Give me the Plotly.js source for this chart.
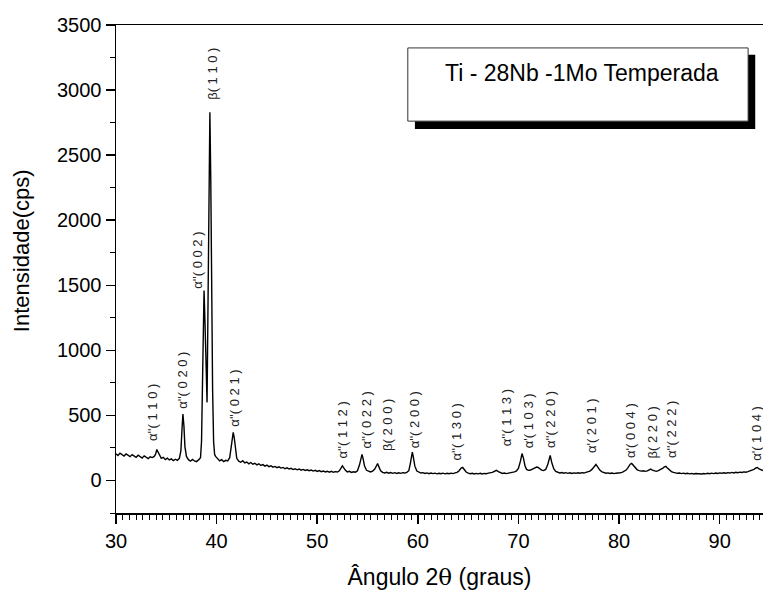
<!DOCTYPE html>
<html><head><meta charset="utf-8">
<script src="https://cdn.plot.ly/plotly-3.0.1.min.js"></script>
<style>html,body{margin:0;padding:0;background:#fff}#chart{width:763px;height:591px}</style>
</head><body><div id="chart"></div>
<script>
const twoTheta = [
30.0,30.2,30.4,30.6,30.8,31.0,31.2,31.4,31.6,31.8,
32.0,32.2,32.4,32.6,32.8,33.0,33.2,33.4,33.6,33.8,
33.95,34.05,34.15,34.3,34.5,34.7,34.9,35.1,35.3,35.5,
35.7,35.9,36.1,36.3,36.45,36.55,36.65,36.75,36.85,37.0,
37.2,37.4,37.6,37.8,38.0,38.2,38.4,38.5,38.6,38.7,
38.75,38.85,38.95,39.05,39.15,39.25,39.33,39.42,39.5,39.6,
39.7,39.8,39.9,40.1,40.3,40.5,40.7,40.9,41.1,41.3,
41.45,41.55,41.65,41.75,41.85,42.0,42.2,42.4,42.6,42.8,
43.0,43.2,43.4,43.6,43.8,44.0,44.2,44.4,44.6,44.8,
45.0,45.2,45.4,45.6,45.8,46.0,46.2,46.4,46.6,46.8,
47.0,47.2,47.4,47.6,47.8,48.0,48.2,48.4,48.6,48.8,
49.0,49.2,49.4,49.6,49.8,50.0,50.2,50.4,50.6,50.8,
51.0,51.2,51.4,51.6,51.8,52.0,52.2,52.4,52.5,52.6,
52.8,53.0,53.2,53.4,53.6,53.8,54.0,54.2,54.35,54.45,
54.55,54.7,54.9,55.1,55.3,55.5,55.7,55.9,56.0,56.1,
56.3,56.5,56.7,56.9,57.1,57.3,57.5,57.7,57.9,58.1,
58.3,58.5,58.7,58.9,59.1,59.25,59.35,59.45,59.55,59.7,
59.9,60.1,60.3,60.5,60.7,60.9,61.1,61.3,61.5,61.7,
61.9,62.1,62.3,62.5,62.7,62.9,63.1,63.3,63.5,63.7,
63.9,64.1,64.3,64.45,64.6,64.8,65.0,65.2,65.4,65.6,
65.8,66.0,66.2,66.4,66.6,66.8,67.0,67.2,67.4,67.6,
67.8,68.0,68.2,68.4,68.6,68.8,69.0,69.2,69.4,69.6,
69.8,70.0,70.2,70.35,70.5,70.65,70.8,71.0,71.2,71.4,
71.6,71.8,71.95,72.1,72.3,72.5,72.7,72.9,73.05,73.15,
73.3,73.5,73.7,73.9,74.1,74.3,74.5,74.7,74.9,75.1,
75.3,75.5,75.7,75.9,76.1,76.3,76.5,76.7,76.9,77.1,
77.3,77.5,77.7,77.9,78.1,78.3,78.5,78.7,78.9,79.1,
79.3,79.5,79.7,79.9,80.1,80.3,80.5,80.7,80.9,81.1,
81.25,81.4,81.6,81.8,82.0,82.2,82.4,82.6,82.8,83.0,
83.15,83.3,83.5,83.7,83.9,84.1,84.3,84.5,84.65,84.8,
85.0,85.2,85.4,85.6,85.8,86.0,86.2,86.4,86.6,86.8,
87.0,87.2,87.4,87.6,87.8,88.0,88.2,88.4,88.6,88.8,
89.0,89.2,89.4,89.6,89.8,90.0,90.2,90.4,90.6,90.8,
91.0,91.2,91.4,91.6,91.8,92.0,92.2,92.4,92.6,92.8,
93.0,93.2,93.4,93.6,93.75,93.9,94.1,94.3
];
const intensity = [
205,192,210,198,188,204,195,183,199,190,
178,194,186,172,189,180,168,182,176,185,
205,238,222,190,170,178,160,172,158,166,
152,163,155,170,230,380,510,420,260,185,
160,148,162,150,145,158,175,300,800,1350,
1460,1200,800,600,1400,2400,2830,2300,1500,700,
300,200,185,165,150,160,145,155,150,175,
260,340,370,330,240,170,148,140,152,135,
142,128,138,125,132,120,128,115,122,110,
118,106,113,102,108,98,105,95,100,90,
97,88,93,84,90,82,88,79,85,77,
82,75,80,72,78,70,76,68,73,66,
71,64,70,63,68,65,74,95,112,100,
78,66,70,62,67,64,75,120,185,200,
170,110,78,70,66,72,85,115,130,110,
75,62,58,63,56,61,55,60,54,59,
55,60,57,62,75,130,200,218,180,110,
72,62,57,60,54,58,52,57,53,56,
51,55,52,56,51,55,52,56,53,58,
62,75,95,100,82,65,56,52,55,50,
54,51,55,50,54,52,56,58,62,70,
78,68,58,54,57,53,56,58,62,66,
74,95,150,207,170,110,85,78,80,88,
95,103,100,88,80,76,85,120,180,192,
140,90,70,62,58,61,56,60,55,59,
54,58,55,59,56,60,57,62,66,72,
85,105,123,100,78,66,60,56,58,54,
57,53,56,55,59,62,68,80,100,125,
131,115,95,82,76,72,75,70,74,82,
88,80,72,70,76,82,92,104,108,95,
80,68,62,58,55,57,53,56,52,55,
51,54,50,53,51,54,50,53,51,55,
52,56,53,57,54,58,55,59,56,60,
57,62,58,63,60,64,61,66,63,68,
72,78,85,96,100,88,80,76
];

const peakLabels = [
"α''( 1 1 0 )","α''( 0 2 0 )","α''( 0 0 2 )","β( 1 1 0 )","α''( 0 2 1 )",
"α''( 1 1 2 )","α''( 0 2 2 )","β( 2 0 0 )","α''( 2 0 0 )","α''( 1 3 0 )",
"α''( 1 1 3 )","α'( 1 0 3 )","α''( 2 2 0 )","α'( 2 0 1 )","α'( 0 0 4 )",
"β( 2 2 0 )","α''( 2 2 2 )","α'( 1 0 4 )"
];
const labelAngle = [33.67,36.65,38.13,39.52,41.8,52.52,54.9,56.98,59.66,63.83,68.89,71.07,73.25,77.32,81.19,83.27,85.26,93.59];
const labelBase = [292,538,1460,2908,400,154,231,215,231,138,246,231,231,192,154,154,154,138];

const legendText = "Ti - 28Nb -1Mo Temperada";
const xTitle = "Ângulo 2<span style=\"font-family:'DejaVu Serif'\">θ</span> (graus)";
const yTitle = "Intensidade(cps)";

const FONT = "'Liberation Sans', Arial, sans-serif";

const annotations = peakLabels.map((t, i) => ({
  x: labelAngle[i], y: labelBase[i], xref: 'x', yref: 'y',
  text: t, textangle: -90, showarrow: false,
  xanchor: 'center', yanchor: 'bottom',
  font: {family: FONT, size: 13, color: '#222'}
}));
annotations.push({
  xref: 'paper', yref: 'paper', x: 0.72, y: 0.902,
  text: legendText, showarrow: false, xanchor: 'center', yanchor: 'middle',
  font: {family: FONT, size: 23, color: '#000'}
});
annotations.push({
  xref: 'paper', yref: 'paper', x: -0.145, y: 0.537,
  text: yTitle, showarrow: false, textangle: -90, xanchor: 'center', yanchor: 'middle',
  font: {family: FONT, size: 22, color: '#000'}
});

const layout = {
  width: 763, height: 591,
  margin: {l: 116, r: 0, t: 25, b: 78},
  paper_bgcolor: '#fff', plot_bgcolor: '#fff',
  showlegend: false,
  font: {family: FONT, color: '#000'},
  xaxis: {
    range: [30, 94.3], dtick: 10, tick0: 30,
    ticks: 'outside', ticklen: 9, tickwidth: 1.5, tickcolor: '#000',
    minor: {dtick: 10/15, ticks: 'outside', ticklen: 5, tickwidth: 1, tickcolor: '#000'},
    showline: true, linewidth: 1.5, linecolor: '#000', mirror: true,
    showgrid: false, zeroline: false,
    tickfont: {family: FONT, size: 20, color: '#000'},
    title: {text: xTitle, font: {family: FONT, size: 23, color: '#000'}, standoff: 18}
  },
  yaxis: {
    range: [-250, 3500], dtick: 500, tick0: 0,
    ticks: 'outside', ticklen: 9, tickwidth: 1.5, tickcolor: '#000',
    minor: {dtick: 250, ticks: 'outside', ticklen: 5, tickwidth: 1, tickcolor: '#000'},
    showline: true, linewidth: 1.5, linecolor: '#000',
    showgrid: false, zeroline: false,
    tickfont: {family: FONT, size: 20, color: '#000'}
  },
  shapes: [
    {type: 'rect', xref: 'paper', yref: 'paper', x0: 0.462, x1: 0.988, y0: 0.787, y1: 0.939,
     fillcolor: '#000', line: {width: 0}, layer: 'above'},
    {type: 'rect', xref: 'paper', yref: 'paper', x0: 0.451, x1: 0.977, y0: 0.803, y1: 0.953,
     fillcolor: '#fff', line: {width: 1, color: '#333'}, layer: 'above'}
  ],
  annotations: annotations
};

Plotly.newPlot('chart', [{
  x: twoTheta, y: intensity, type: 'scatter', mode: 'lines',
  line: {color: '#000', width: 1.4}, hoverinfo: 'skip'
}], layout, {displayModeBar: false, staticPlot: true});
</script>
</body></html>
